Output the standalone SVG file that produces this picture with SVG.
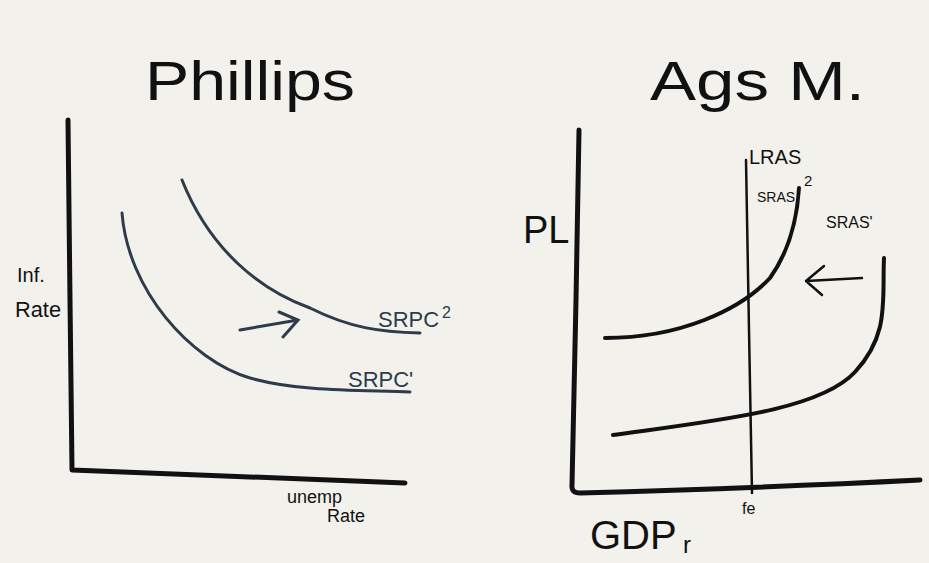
<svg xmlns="http://www.w3.org/2000/svg" width="929" height="563" viewBox="0 0 929 563">
<style>
.bg{fill:#f2f1ec}
.ax{fill:none;stroke:#111;stroke-width:5;stroke-linecap:round;stroke-linejoin:round}
.pc{fill:none;stroke:#2d3b4b;stroke-width:3;stroke-linecap:round}
.as{fill:none;stroke:#111;stroke-width:4;stroke-linecap:round}
.thin{fill:none;stroke:#111;stroke-width:2.5;stroke-linecap:round;stroke-linejoin:round}
.t{font-family:"Liberation Sans",Arial,sans-serif;fill:#111}
.tp{font-family:"Liberation Sans",Arial,sans-serif;fill:#2d3b4b}
</style>
<rect class="bg" width="929" height="563"/>
<g id="title-phillips"><text class="t" x="145" y="100" font-size="56" textLength="210" lengthAdjust="spacingAndGlyphs">Phillips</text></g>
<g id="title-agg"><text class="t" x="650" y="100" font-size="56" textLength="215" lengthAdjust="spacingAndGlyphs">Ags M.</text></g>

<g id="phillips-axes">
<path class="ax" d="M68,120 L70,300 L72,470 L405,483"/>
</g>
<g id="label-inf"><text class="t" x="17" y="282" font-size="20">Inf.</text><text class="t" x="15" y="317" font-size="22" textLength="46" lengthAdjust="spacingAndGlyphs">Rate</text></g>
<g id="label-unemp"><text class="t" x="287" y="503" font-size="18">unemp</text><text class="t" x="327" y="522" font-size="18">Rate</text></g>
<g id="srpc1"><path class="pc" d="M122,213 C128,290 190,360 250,378 C300,392 360,390 410,392"/><text class="tp" x="348" y="387" font-size="22">SRPC'</text></g>
<g id="srpc2"><path class="pc" d="M182,180 C210,250 260,290 310,308 C350,328 380,332 420,333"/><text class="tp" x="378" y="327" font-size="22">SRPC</text><text class="tp" x="442" y="318" font-size="16">2</text></g>

<g id="agg-axes">
<path class="ax" d="M579,130 L576,300 L572,485 Q571,493 580,493 Q760,488 920,480" stroke-width="6"/>
</g>
<g id="label-pl"><text class="t" x="523" y="243" font-size="38">PL</text></g>
<g id="label-gdp"><text class="t" x="590" y="549" font-size="40">GDP</text><text class="t" x="683" y="553" font-size="24">r</text></g>
<g id="lras"><path class="thin" d="M746,160 L749,330 L752,493" stroke-width="3"/><text class="t" x="749" y="164" font-size="20">LRAS</text><text class="t" x="742" y="514" font-size="16">fe</text></g>
<g id="sras2"><path class="as" d="M605,338 C680,338 740,310 770,278 C790,250 797,220 799,188"/><text class="t" x="757" y="202" font-size="14">SRAS</text><text class="t" x="804" y="186" font-size="15">2</text></g>
<g id="sras1"><path class="as" d="M613,435 C720,420 820,410 855,372 S882,300 884,258"/><text class="t" x="826" y="228" font-size="16">SRAS'</text></g>

<g id="connectors">
<path class="pc" d="M240,330 L298,320 M279,312 L298,320 L283,337" stroke-width="2.5"/>
<path class="thin" d="M862,278 L806,281 M824,266 L806,281 L822,295" stroke-width="2.5"/>
</g>
</svg>
